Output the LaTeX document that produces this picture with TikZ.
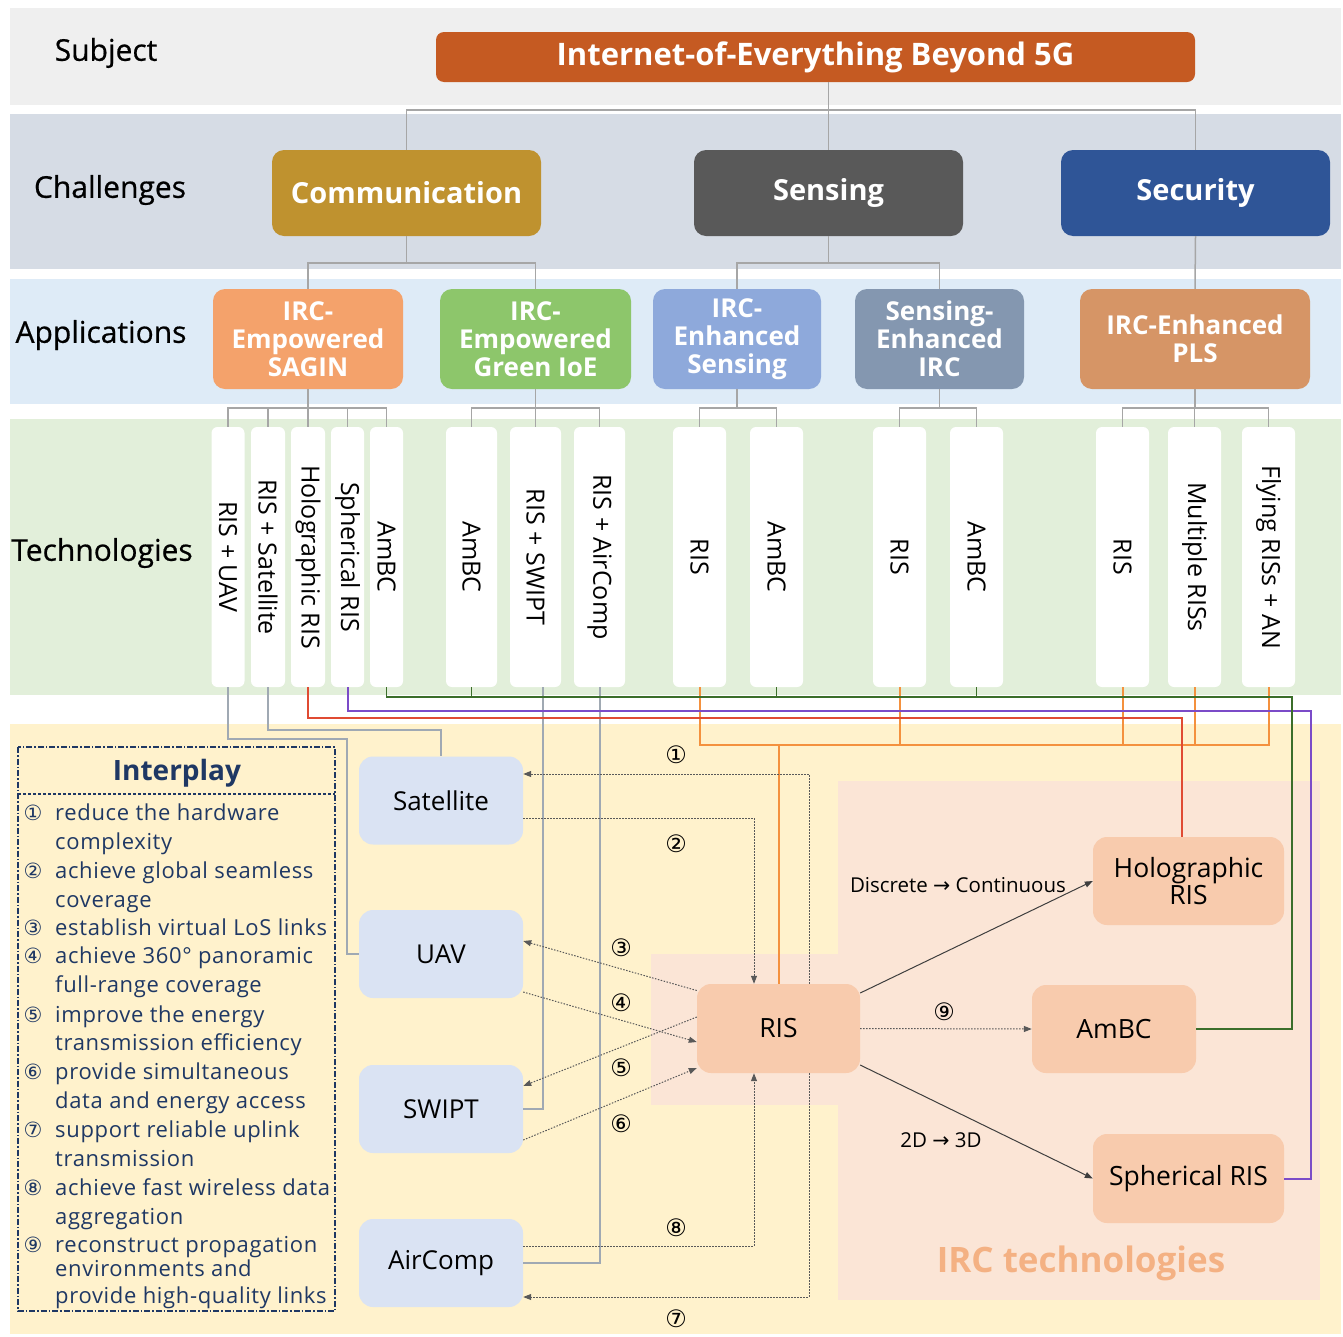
\documentclass[tikz,border=0pt]{standalone}
\usepackage{fontspec}
\setmainfont{Open Sans}
\newfontfamily\symf{DejaVu Sans}
\newfontfamily\lblf[FakeBold=0.6]{Open Sans}
\newfontfamily\listf[LetterSpace=3]{Open Sans}
\usetikzlibrary{arrows.meta,calc}
\definecolor{bandS}{HTML}{EFEFEF}
\definecolor{bandC}{HTML}{D6DCE5}
\definecolor{bandA}{HTML}{DEEBF7}
\definecolor{bandT}{HTML}{E2EFDA}
\definecolor{bandB}{HTML}{FFF2CC}
\definecolor{cTitle}{HTML}{C55A22}
\definecolor{cComm}{HTML}{BF922F}
\definecolor{cSens}{HTML}{595959}
\definecolor{cSec}{HTML}{2F5597}
\definecolor{cSagin}{HTML}{F4A26B}
\definecolor{cGreen}{HTML}{8DC66B}
\definecolor{cEnhS}{HTML}{8EA9DB}
\definecolor{cSEnh}{HTML}{8497B0}
\definecolor{cPLS}{HTML}{D69566}
\definecolor{cBlueBox}{HTML}{DAE3F3}
\definecolor{cPeach}{HTML}{F8CBAD}
\definecolor{cRegion}{HTML}{FBE5D6}
\definecolor{cIRC}{HTML}{F4B183}
\definecolor{cNavy}{HTML}{1F3864}
\definecolor{cTree}{HTML}{A6A6A6}
\definecolor{cLine}{HTML}{A0A9B3}
\definecolor{cGrn}{HTML}{3B6E2A}
\definecolor{cPur}{HTML}{7B4BC8}
\definecolor{cRed}{HTML}{E04B33}
\definecolor{cOrg}{HTML}{F4913E}
\definecolor{cDot}{HTML}{595959}
\tikzset{
  lbl/.style={font=\lblf\fontsize{30}{36}\selectfont, text=black, inner sep=0pt},
  tbox/.style={rounded corners=12pt, text=white, align=center, inner sep=0pt, font=\bfseries\fontsize{29}{34}\selectfont},
  abox/.style={rounded corners=12pt, text=white, align=center, inner sep=0pt, minimum height=100pt, font=\bfseries\fontsize{26}{28}\selectfont},
  techb/.style={fill=white, rounded corners=6pt, minimum height=260pt, inner sep=0pt},
  techt/.style={font=\fontsize{25}{29}\selectfont, inner sep=0pt},
  tree/.style={draw=cTree, line width=1.5pt},
  lgray/.style={draw=cLine, line width=2pt},
  grn/.style={draw=cGrn, line width=1.5pt},
  pur/.style={draw=cPur, line width=2pt},
  red/.style={draw=cRed, line width=2pt},
  org/.style={draw=cOrg, line width=2pt},
  bbox/.style={fill=cBlueBox, rounded corners=14pt, minimum width=164pt, minimum height=88pt, inner sep=0pt, font=\fontsize{26}{30}\selectfont},
  pbox/.style={fill=cPeach, rounded corners=14pt, minimum height=88pt, inner sep=0pt, align=center, font=\fontsize{26.5}{27}\selectfont},
  dotarr/.style={draw=cDot, line width=1pt, dash pattern=on 1.5pt off 1.5pt, -{Triangle[length=8pt,width=6pt]}},
  solarr/.style={draw=cDot!70!black, line width=1pt, -{Triangle[length=8pt,width=6pt]}},
  circ/.style={font=\symf\fontsize{24}{26}\selectfont, inner sep=0pt},
  circn/.style={font=\symf\fontsize{21}{24}\selectfont, inner sep=0pt, text=cNavy, anchor=base},
  item/.style={anchor=base west, inner sep=0pt, text=cNavy, font=\listf\fontsize{22}{25}\selectfont},
  small/.style={font=\fontsize{20.5}{24}\selectfont, inner sep=0pt},
}
\newcommand\techbox[4]{\node[techb, minimum width=#3pt] (#1) at (#2,557) {};
  \node[techt, rotate=-90] (#1txt) at (#1.center) {#4};}
\newcommand\ipl[3]{\node[item] (#1) at (55,#2) {#3};}
\newcommand\ipn[3]{\node[circn] (#1) at (33,#2) {#3};}
\begin{document}
\begin{tikzpicture}[x=1pt,y=-1pt]
\useasboundingbox (0,0) rectangle (1343,1336);
\fill[white] (0,0) rectangle (1343,1336);
% bands
\fill[bandS] (10,8) rectangle (1341,105);
\fill[bandC] (10,114) rectangle (1341,269);
\fill[bandA] (10,279) rectangle (1341,404);
\fill[bandT] (10,419) rectangle (1341,695);
\fill[bandB] (10,724) rectangle (1341,1334);
\fill[cRegion] (838,781) rectangle (1320,1300);
\fill[cRegion] (651,954) rectangle (838,1105);
% row labels
\node[lbl] (lsub) at (106,53) {Subject};
\node[lbl] (lcha) at (110,190) {Challenges};
\node[lbl] (lapp) at (101,335) {Applications};
\node[lbl] (ltec) at (102,553) {Technologies};
% subject
\node[tbox, fill=cTitle, minimum width=759pt, minimum height=50pt, rounded corners=8pt, font=\bfseries\fontsize{31}{34}\selectfont] (ioe) at (815.5,57) {Internet-of-Everything Beyond 5G};
% challenges
\node[tbox, fill=cComm, minimum width=269pt, minimum height=86pt] (comm) at (406.5,193) {Communication};
\node[tbox, fill=cSens, minimum width=269pt, minimum height=86pt] (sens) at (828.5,193) {Sensing};
\node[tbox, fill=cSec, minimum width=269pt, minimum height=86pt] (sec) at (1195.5,193) {Security};
% applications
\node[abox, fill=cSagin, minimum width=190pt] (sagin) at (308,339) {IRC-\\Empowered\\SAGIN};
\node[abox, fill=cGreen, minimum width=191pt] (gioe) at (535.5,339) {IRC-\\Empowered\\Green IoE};
\node[abox, fill=cEnhS, minimum width=168pt] (enhs) at (737,339) {IRC-\\Enhanced\\Sensing};
\node[abox, fill=cSEnh, minimum width=169pt] (senh) at (939.5,339) {Sensing-\\Enhanced\\IRC};
\node[abox, fill=cPLS, minimum width=230pt] (pls) at (1195,339) {IRC-Enhanced\\PLS};
% technologies
\techbox{t1}{228}{33}{RIS + UAV}
\techbox{t2}{268}{34}{RIS + Satellite}
\techbox{t3}{308}{34}{Holographic RIS}
\techbox{t4}{347.5}{33}{Spherical RIS}
\techbox{t5}{386.5}{33}{AmBC}
\techbox{t6}{471.5}{51}{AmBC}
\techbox{t7}{535.5}{51}{RIS + SWIPT}
\techbox{t8}{599.5}{51}{RIS + AirComp}
\techbox{t9}{699.5}{53}{RIS}
\techbox{t10}{776.5}{53}{AmBC}
\techbox{t11}{899.5}{53}{RIS}
\techbox{t12}{976.5}{53}{AmBC}
\techbox{t13}{1122.5}{53}{RIS}
\techbox{t14}{1194.5}{53}{Multiple RISs}
\techbox{t15}{1268.5}{53}{Flying RISs + AN}
% tree coordinates
\coordinate (b1) at (0,110);
\coordinate (b2) at (0,263);
\coordinate (b3) at (0,408);
\draw[tree] (ioe.south -| sens.north) -- (sens.north);
\draw[tree] (comm.north) -- (comm.north |- b1) -- (sec.north |- b1) -- (sec.north);
\draw[tree] (comm.south) -- (comm.south |- b2);
\draw[tree] (sagin.north) -- (sagin.north |- b2) -- (gioe.north |- b2) -- (gioe.north);
\draw[tree] (sens.south) -- (sens.south |- b2);
\draw[tree] (enhs.north) -- (enhs.north |- b2) -- (senh.north |- b2) -- (senh.north);
\draw[tree] (sec.south) -- (pls.north);
\draw[tree] (sagin.south) -- (sagin.south |- b3);
\draw[tree] (t1.north) -- (t1.north |- b3) -- (t5.north |- b3) -- (t5.north);
\foreach \t in {t2,t3,t4} \draw[tree] (\t.north) -- (\t.north |- b3);
\draw[tree] (gioe.south) -- (gioe.south |- b3);
\draw[tree] (t6.north) -- (t6.north |- b3) -- (t8.north |- b3) -- (t8.north);
\draw[tree] (t7.north) -- (t7.north |- b3);
\draw[tree] (enhs.south) -- (enhs.south |- b3);
\draw[tree] (t9.north) -- (t9.north |- b3) -- (t10.north |- b3) -- (t10.north);
\draw[tree] (senh.south) -- (senh.south |- b3);
\draw[tree] (t11.north) -- (t11.north |- b3) -- (t12.north |- b3) -- (t12.north);
\draw[tree] (pls.south) -- (pls.south |- b3);
\draw[tree] (t13.north) -- (t13.north |- b3) -- (t15.north |- b3) -- (t15.north);
\draw[tree] (t14.north) -- (t14.north |- b3);
% lower nodes
\node[bbox] (sat) at (441,800.5) {Satellite};
\node[bbox] (uav) at (441,954) {UAV};
\node[bbox] (swipt) at (441,1109) {SWIPT};
\node[bbox] (airc) at (441,1263) {AirComp};
\node[pbox, minimum width=163pt, minimum height=89pt] (ris) at (778.5,1028.5) {RIS};
\node[pbox, minimum width=191pt] (holo) at (1188.5,881) {Holographic\\RIS};
\node[pbox, minimum width=164pt] (ambc) at (1114,1029) {AmBC};
\node[pbox, minimum width=191pt, minimum height=89pt] (sph) at (1188.5,1178.5) {Spherical RIS};
\node[font=\bfseries\fontsize{35}{40}\selectfont, text=cIRC, inner sep=0pt] (irct) at (1081,1263) {IRC technologies};
% gray lines to lower boxes
\draw[lgray] (t1.south) -- ++(0,52) -| ([xshift=-12pt]uav.west) -- (uav.west);
\draw[lgray] (t2.south) -- ++(0,43) -| (sat.north);
\draw[lgray] ([xshift=7pt]t7.south) |- (swipt.east);
\draw[lgray] (t8.south) |- (airc.east);
% coloured lines
\draw[org] (t9.south) -- ++(0,58) -| (t15.south);
\foreach \t in {t11,t13,t14} \draw[org] (\t.south) -- ++(0,58);
\draw[org] (ris.north) -- ++(0,-239);
\draw[red] (t3.south) -- ++(0,31) -| ([xshift=-7pt]holo.north);
\draw[pur] (t4.south) -- ++(0,24) -| ([xshift=27pt]sph.east) -- (sph.east);
\draw[grn] (t5.south) -- ++(0,10) -| ([xshift=96pt]ambc.east) -- (ambc.east);
\foreach \t in {t6,t10,t12} \draw[grn] (\t.south) -- ++(0,10);
% dotted interplay arrows
\draw[dotarr] ([xshift=30.5pt]ris.north) |- ($(sat.east)+(0,-26.5)$);
\draw[dotarr] ($(sat.east)+(0,17.5)$) -| ([xshift=-24.5pt]ris.north);
\draw[dotarr] ($(ris.west)+(0,-38)$) -- ($(uav.east)+(0,-13)$);
\draw[dotarr] ($(uav.east)+(0,38)$) -- ($(ris.west)+(0,13.5)$);
\draw[dotarr] ($(ris.west)+(0,-11.5)$) -- ($(swipt.east)+(0,-23)$);
\draw[dotarr] ($(swipt.east)+(0,31)$) -- ($(ris.west)+(0,39.5)$);
\draw[dotarr] ($(airc.east)+(0,-17)$) -| ([xshift=-24.5pt]ris.south);
\draw[dotarr] ([xshift=30.5pt]ris.south) |- ($(airc.east)+(0,34)$);
\draw[dotarr] (ris.east) -- (ambc.west);
\node[circ] (n1) at (676,755) {①};
\node[circ] (n2) at (676,844) {②};
\node[circ] (n3) at (621,948) {③};
\node[circ] (n4) at (621,1003) {④};
\node[circ] (n5) at (621,1068) {⑤};
\node[circ] (n6) at (621,1124) {⑥};
\node[circ] (n8) at (676,1228) {⑧};
\node[circ] (n7) at (676,1319) {⑦};
\node[circ] (n9) at (944,1012) {⑨};
% solid arrows
\draw[solarr] ($(ris.east)+(0,-35.5)$) -- (holo.west);
\draw[solarr] ($(ris.east)+(0,36.5)$) -- (sph.west);
\node[small] (dc) at (958,885) {Discrete {\symf →} Continuous};
\node[small] (d23) at (941,1140) {2D {\symf →} 3D};
% interplay box
\draw[cNavy, line width=1.3pt, dash pattern=on 6pt off 2pt on 1.5pt off 2pt] (18,747) rectangle (335,1311);
\draw[cNavy, line width=1.2pt, dash pattern=on 3pt off 2pt] (18,794) -- (335,794);
\node[font=\bfseries\fontsize{28}{32}\selectfont, text=cNavy, inner sep=0pt] (iptitle) at (177,773) {Interplay};
\ipn{c1}{820}{①} \ipl{i1a}{820}{reduce the hardware} \ipl{i1b}{849}{complexity}
\ipn{c2}{878}{②} \ipl{i2a}{878}{achieve global seamless} \ipl{i2b}{907}{coverage}
\ipn{c3}{935}{③} \ipl{i3a}{935}{establish virtual LoS links}
\ipn{c4}{963}{④} \ipl{i4a}{963}{achieve 360° panoramic} \ipl{i4b}{992}{full-range coverage}
\ipn{c5}{1022}{⑤} \ipl{i5a}{1022}{improve the energy} \ipl{i5b}{1050}{transmission efficiency}
\ipn{c6}{1079}{⑥} \ipl{i6a}{1079}{provide simultaneous} \ipl{i6b}{1108}{data and energy access}
\ipn{c7}{1137}{⑦} \ipl{i7a}{1137}{support reliable uplink} \ipl{i7b}{1166}{transmission}
\ipn{c8}{1195}{⑧} \ipl{i8a}{1195}{achieve fast wireless data} \ipl{i8b}{1224}{aggregation}
\ipn{c9}{1252}{⑨} \ipl{i9a}{1252}{reconstruct propagation} \ipl{i9b}{1276}{environments and} \ipl{i9c}{1303}{provide high-quality links}
\end{tikzpicture}
\end{document}
